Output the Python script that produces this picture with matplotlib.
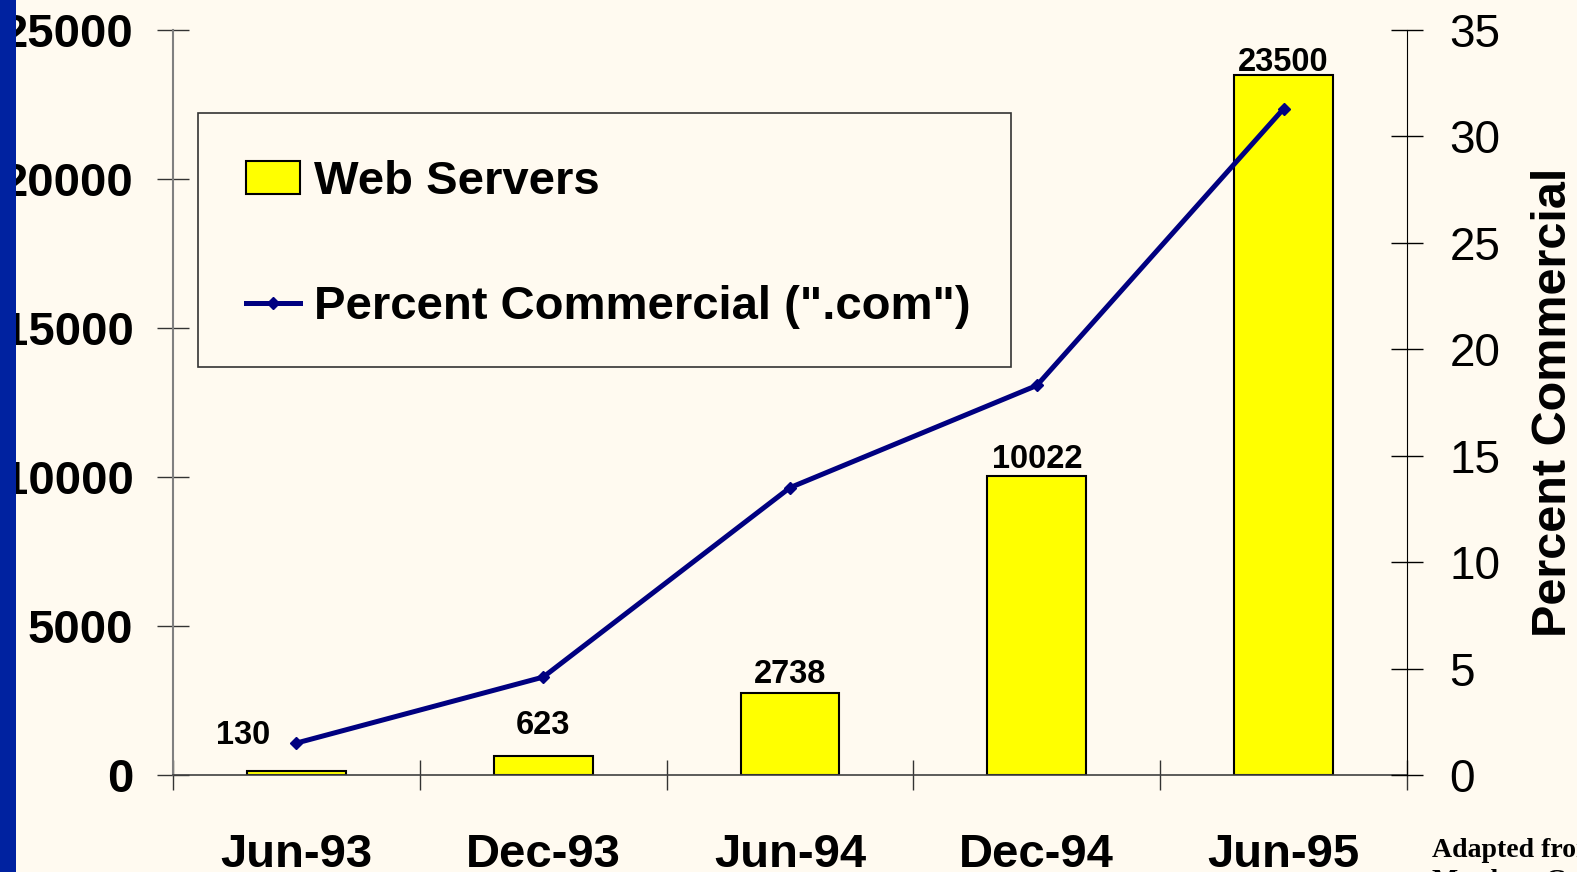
#!/usr/bin/env python3

import matplotlib.pyplot as plt
import matplotlib.patches as mpatches
from matplotlib.lines import Line2D
import numpy as np

# Data
periods = ['Jun-93', 'Dec-93', 'Jun-94', 'Dec-94', 'Jun-95']
web_servers = [130, 623, 2738, 10022, 23500]
percent_com = [1.5, 4.6, 13.5, 18.3, 31.3]

BG = '#FFFAF0'
NAVY = '#000080'

plt.rcParams['font.family'] = ['Liberation Sans', 'DejaVu Sans']

fig = plt.figure(figsize=(15.77, 8.72), dpi=100, facecolor=BG)

# blue strip from the slide on the left edge
fig.patches.append(mpatches.Rectangle((0, 0), 16 / 1577, 1, transform=fig.transFigure,
                                      facecolor='#0022A0', edgecolor='none', zorder=10))

ax = fig.add_axes([173 / 1577, 1 - 775 / 872, (1407 - 173) / 1577, (775 - 30) / 872])
ax.set_facecolor('none')
x = np.arange(len(periods))

bars = ax.bar(x, web_servers, width=0.4, color='#FFFF00', edgecolor='black',
              linewidth=1.5, zorder=2)

# value labels above the bars (first one nudged left to clear the line marker)
label_shift = [(-53, 20), (0, 15), (0, 3), (0, 1), (0, -3)]
for xi, val, (dx, dy) in zip(x, web_servers, label_shift):
    ax.annotate(str(val), (xi, val), xytext=(dx, dy), textcoords='offset pixels',
                ha='center', va='bottom', fontsize=23.5, fontweight='bold', zorder=5)

ax.set_xlim(-0.5, len(periods) - 0.5)
ax.set_ylim(0, 25000)
ax.set_yticks(np.arange(0, 25001, 5000))
ax.set_yticklabels([str(v) for v in range(0, 25001, 5000)], fontsize=34, fontweight='bold')
ax.tick_params(axis='y', direction='inout', length=23, width=1, color='#333333', pad=17)

ax.set_xticks(x)
ax.set_xticklabels(periods, fontsize=34, fontweight='bold')
ax.tick_params(axis='x', which='major', length=0, pad=42)
ax.set_xticks(np.arange(-0.5, len(periods)), minor=True)
ax.tick_params(axis='x', which='minor', direction='inout', length=22, width=1, color='#333333')

for side in ['top', 'right']:
    ax.spines[side].set_visible(False)
ax.spines['left'].set_color('#808080')
ax.spines['left'].set_linewidth(1.5)
ax.spines['bottom'].set_color('#404040')
ax.spines['bottom'].set_linewidth(1.2)

# right axis for percent commercial
ax2 = ax.twinx()
ax2.set_facecolor('none')
ax2.plot(x, percent_com, color=NAVY, linewidth=3.6, marker='D', markersize=6.5, zorder=4)
ax2.set_ylim(0, 35)
ax2.set_yticks(np.arange(0, 36, 5))
ax2.set_yticklabels([str(v) for v in range(0, 36, 5)], fontsize=33)
ax2.tick_params(axis='y', direction='inout', length=23, width=1, color='black', pad=19)
for side in ['top', 'left', 'bottom']:
    ax2.spines[side].set_visible(False)
ax2.spines['right'].set_color('black')
ax2.set_ylabel('Percent Commercial', fontsize=35, fontweight='bold', labelpad=22)

# legend with a drawn frame
fig.patches.append(mpatches.Rectangle((198 / 1577, 1 - 367 / 872), (1011 - 198) / 1577,
                                      (367 - 113) / 872, transform=fig.transFigure,
                                      facecolor=BG, edgecolor='#333333', linewidth=1.2, zorder=6))
handles = [mpatches.Patch(facecolor='#FFFF00', edgecolor='black', linewidth=1.5),
           Line2D([], [], color=NAVY, linewidth=3.6, marker='D', markersize=6.5)]
leg = fig.legend(handles, ['Web Servers', 'Percent Commercial (".com")'],
                 loc='upper left', bbox_to_anchor=(246 / 1577, 1 - 160 / 872),
                 frameon=False, prop={'size': 34, 'weight': 'bold'},
                 handlelength=1.15, handleheight=0.7, handletextpad=0.3,
                 labelspacing=1.72, borderpad=0, borderaxespad=0)
leg.set_zorder(7)

fig.text(1432 / 1577, 1 - 857 / 872, 'Adapted from', fontsize=20,
         fontweight='bold', family='Liberation Serif', va='baseline')
fig.text(1432 / 1577, 1 - 888 / 872, 'Matthew Gray', fontsize=20,
         fontweight='bold', family='Liberation Serif', va='baseline')

plt.savefig('out.png', dpi=100, facecolor=BG)
